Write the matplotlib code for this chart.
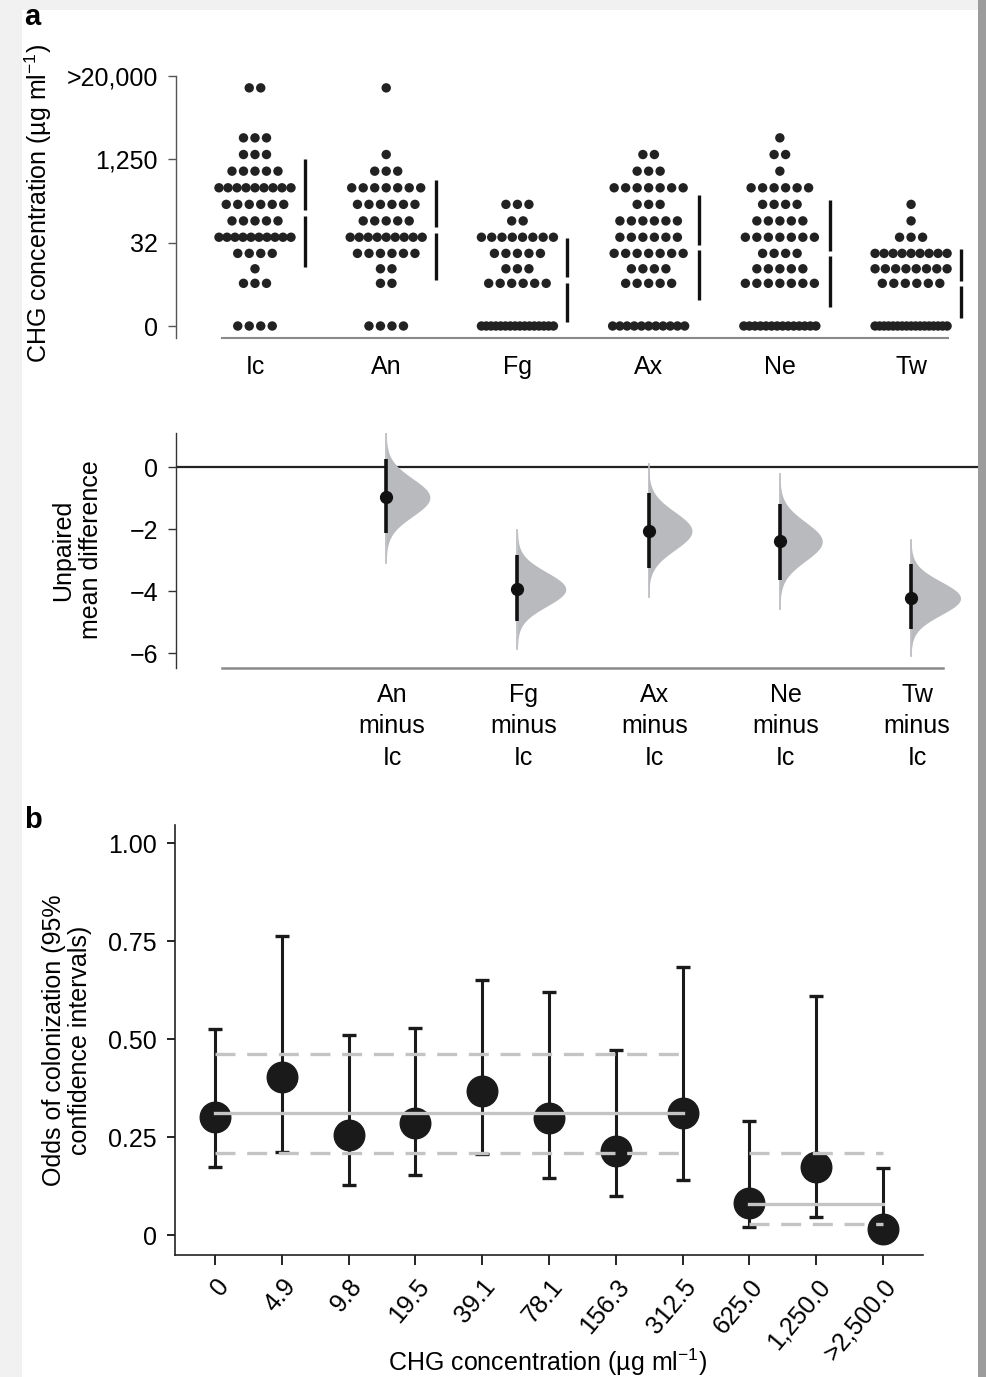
import numpy as np
import matplotlib
matplotlib.use('Agg')
import matplotlib.pyplot as plt
from matplotlib.patches import Rectangle
from matplotlib.transforms import ScaledTranslation

plt.rcParams['font.family'] = ['Liberation Sans', 'DejaVu Sans']
plt.rcParams['mathtext.fontset'] = 'custom'
plt.rcParams['mathtext.rm'] = 'Liberation Sans'
plt.rcParams['mathtext.it'] = 'Liberation Sans:italic'
plt.rcParams['mathtext.bf'] = 'Liberation Sans:bold'

# ---------------- data ----------------
groups = ['Ic', 'An', 'Fg', 'Ax', 'Ne', 'Tw']
conc_levels = [0, 4.9, 9.8, 19.5, 39.1, 78.1, 156.3, 312.5, 625, 1250, 2500, 20000]
counts_Ic = [4, 3, 1, 4, 10, 5, 6, 9, 5, 3, 3, 2]
counts_An = [4, 2, 2, 6, 9, 5, 6, 7, 3, 1, 0, 1]
counts_Fg = [16, 6, 3, 5, 8, 2, 3, 0, 0, 0, 0, 0]
counts_Ax = [11, 5, 4, 7, 6, 6, 3, 7, 3, 2, 0, 0]
counts_Ne = [14, 7, 5, 4, 7, 5, 4, 6, 1, 2, 1, 0]
counts_Tw = [17, 6, 8, 9, 3, 1, 1, 0, 0, 0, 0, 0]
group_counts = [counts_Ic, counts_An, counts_Fg, counts_Ax, counts_Ne, counts_Tw]
group_mean_log = [6.79, 5.77, 2.78, 4.71, 4.36, 2.56]
group_sd_log = [3.22, 2.98, 2.52, 3.17, 3.23, 2.07]
top_yticks = [0, 5, 10, 15]
top_yticklabels = ['0', '32', '1,250', '>20,000']

diff_labels = ['An\nminus\nIc', 'Fg\nminus\nIc', 'Ax\nminus\nIc', 'Ne\nminus\nIc', 'Tw\nminus\nIc']
diff_mean = [-0.98, -3.94, -2.06, -2.40, -4.23]
diff_ci_low = [-2.12, -4.98, -3.25, -3.65, -5.23]
diff_ci_high = [0.26, -2.83, -0.85, -1.20, -3.13]

odds_labels = ['0', '4.9', '9.8', '19.5', '39.1', '78.1', '156.3', '312.5',
               '625.0', '1,250.0', '>2,500.0']
odds = [0.301, 0.402, 0.256, 0.286, 0.367, 0.298, 0.214, 0.311, 0.081, 0.174, 0.015]
odds_low = [0.174, 0.211, 0.128, 0.154, 0.207, 0.145, 0.099, 0.141, 0.020, 0.047, 0.005]
odds_high = [0.525, 0.763, 0.509, 0.527, 0.650, 0.620, 0.472, 0.683, 0.291, 0.611, 0.172]
pool1_mean, pool1_low, pool1_high = 0.31, 0.209, 0.461
pool2_mean, pool2_low, pool2_high = 0.08, 0.028, 0.209

# ---------------- figure ----------------
W, H = 986, 1377
fig = plt.figure(figsize=(W / 100, H / 100), dpi=100)
fig.patch.set_facecolor('#f1f1f1')
fig.add_artist(Rectangle((22 / W, 0), (978 - 22) / W, 1 - 10 / H,
                         transform=fig.transFigure, facecolor='white',
                         edgecolor='none', zorder=-5))
fig.add_artist(Rectangle((978 / W, 0), 8 / W, 1, transform=fig.transFigure,
                         facecolor='#9c9c9c', edgecolor='none', zorder=-5))


def box(x0, y0, x1, y1):
    return [x0 / W, 1 - y1 / H, (x1 - x0) / W, (y1 - y0) / H]


FS = 18
DOT = '#222222'

# ---------------- panel a, top ----------------
ax1 = fig.add_axes(box(176, 76, 978, 338))
ax1.set_facecolor('none')
xl = (-0.602, 5.51)
ax1.set_xlim(*xl)
ax1.set_ylim(-0.72, 15)
px_per_unit = 802 / (xl[1] - xl[0])
for i, cnts in enumerate(group_counts):
    for c, n in zip(conc_levels, cnts):
        if n == 0:
            continue
        y = np.log2(c + 1)
        span = min((n - 1) * 11.5, 72.0)
        xs = i + np.linspace(-span / 2, span / 2, n) / px_per_unit
        ax1.scatter(xs, np.full(n, y), s=46, color=DOT, edgecolors='none', zorder=3)
    m, sd = group_mean_log[i], group_sd_log[i]
    gap = 0.17
    bx = i + 0.38
    ax1.plot([bx, bx], [m + gap, m + sd], color='#111111', lw=2.4, solid_capstyle='butt')
    ax1.plot([bx, bx], [m - sd, m - gap], color='#111111', lw=2.4, solid_capstyle='butt')

ax1.set_yticks(top_yticks)
ax1.set_yticklabels(top_yticklabels, fontsize=FS)
ax1.set_xticks(range(len(groups)))
ax1.set_xticklabels(groups, fontsize=FS)
ax1.tick_params(axis='x', length=0, pad=12)
ax1.tick_params(axis='y', length=6, width=1, color='#555555', pad=7)
for s in ['top', 'right']:
    ax1.spines[s].set_visible(False)
ax1.spines['left'].set_color('#555555')
ax1.spines['left'].set_linewidth(1.0)
ax1.spines['bottom'].set_color('#8a8a8a')
ax1.spines['bottom'].set_linewidth(1.5)
ax1.spines['bottom'].set_bounds(-0.25, 5.28)

# ---------------- panel a, bottom (estimation) ----------------
ax2 = fig.add_axes(box(176, 433, 978, 668))
ax2.set_facecolor('none')
ax2.set_xlim(*xl)
ax2.set_ylim(-6.48, 1.097)
ax2.axhline(0, color='#222222', lw=1.6, zorder=1)
VCOL = '#b9babd'
for k in range(len(diff_mean)):
    pos = k + 1
    m = diff_mean[k]
    sd = (diff_ci_high[k] - diff_ci_low[k]) / 3.92
    yy = np.linspace(m - 3.5 * sd, m + 3.5 * sd, 300)
    dens = np.exp(-0.5 * ((yy - m) / sd) ** 2)
    width = 0.202 / sd
    xx = pos + width * dens
    ax2.fill_betweenx(yy, pos, xx, color=VCOL, lw=0, zorder=2)
    ax2.plot([pos, pos], [yy[0], yy[-1]], color=VCOL, lw=1.2, zorder=2)
    ax2.plot([pos, pos], [diff_ci_low[k], diff_ci_high[k]], color='#111111', lw=2.6,
             solid_capstyle='butt', zorder=3)
    ax2.plot([pos], [m], 'o', color='#111111', ms=8.5, zorder=4)
ax2.set_yticks([0, -2, -4, -6])
ax2.set_yticklabels(['0', '\u22122', '\u22124', '\u22126'], fontsize=FS)
ax2.set_xticks([k + 1.045 for k in range(len(diff_labels))])
ax2.set_xticklabels(diff_labels, fontsize=FS, linespacing=1.38)
ax2.tick_params(axis='x', length=0, pad=11)
ax2.tick_params(axis='y', length=6, width=1, color='#333333', pad=7)
for s in ['top', 'right']:
    ax2.spines[s].set_visible(False)
ax2.spines['left'].set_color('#333333')
ax2.spines['left'].set_linewidth(1.0)
ax2.spines['bottom'].set_color('#8a8a8a')
ax2.spines['bottom'].set_linewidth(1.8)
ax2.spines['bottom'].set_bounds(-0.25, 5.24)

# ---------------- panel b ----------------
ax3 = fig.add_axes(box(175, 825, 923, 1255))
ax3.set_facecolor('none')
ax3.set_xlim(-0.599, 10.6)
ax3.set_ylim(-0.051, 1.046)
xpos = np.arange(len(odds))
o = np.array(odds)
lo = np.array(odds_low)
hi = np.array(odds_high)
ax3.errorbar(xpos, o, yerr=[o - lo, hi - o], fmt='o', ms=22, color='#1a1a1a',
             ecolor='#1a1a1a', elinewidth=2.2, capsize=5, capthick=2.4, zorder=3)
LCOL = '#c4c4c4'
g1 = [0, 7]
g2 = [8, 10]
ax3.plot(g1, [pool1_mean] * 2, color=LCOL, lw=2.4, zorder=5)
ax3.plot(g1, [pool1_high] * 2, color=LCOL, lw=2.4, dashes=(6, 3.5), zorder=5)
ax3.plot(g1, [pool1_low] * 2, color=LCOL, lw=2.4, dashes=(6, 3.5), zorder=5)
ax3.plot(g2, [pool2_mean] * 2, color=LCOL, lw=2.4, zorder=5)
ax3.plot(g2, [pool2_high] * 2, color=LCOL, lw=2.4, dashes=(6, 3.5), zorder=5)
ax3.plot(g2, [pool2_low] * 2, color=LCOL, lw=2.4, dashes=(6, 3.5), zorder=5)
ax3.set_yticks([0, 0.25, 0.5, 0.75, 1.0])
ax3.set_yticklabels(['0', '0.25', '0.50', '0.75', '1.00'], fontsize=FS)
ax3.set_xticks(xpos)
ax3.set_xticklabels(odds_labels, fontsize=FS, rotation=50, ha='right', va='top',
                    rotation_mode='anchor')
shift = ScaledTranslation(8 / 72, 0, fig.dpi_scale_trans)
for lab in ax3.get_xticklabels():
    lab.set_transform(lab.get_transform() + shift)
ax3.tick_params(axis='x', length=7, width=1.2, pad=7)
ax3.tick_params(axis='y', length=6, width=1.2, pad=7)
for s in ['top', 'right']:
    ax3.spines[s].set_visible(False)
for s in ['left', 'bottom']:
    ax3.spines[s].set_linewidth(1.2)
    ax3.spines[s].set_color('#222222')

# ---------------- labels ----------------
fig.text(38 / W, 1 - 203 / H, r'CHG concentration (µg ml$^{-1}$)', rotation=90,
         ha='center', va='center', fontsize=FS)
fig.text(77 / W, 1 - 550 / H, 'Unpaired\nmean difference', rotation=90,
         ha='center', va='center', fontsize=FS, linespacing=1.2)
fig.text(67 / W, 1 - 1040 / H, 'Odds of colonization (95%\nconfidence intervals)',
         rotation=90, ha='center', va='center', fontsize=FS, linespacing=1.15)
fig.text(548 / W, 1 - 1362 / H, r'CHG concentration (µg ml$^{-1}$)',
         ha='center', va='center', fontsize=FS)
fig.text(24 / W, 1 - 17 / H, 'a', ha='left', va='center', fontsize=21, fontweight='bold')
fig.text(24 / W, 1 - 820 / H, 'b', ha='left', va='center', fontsize=21, fontweight='bold')

fig.savefig('out.png', dpi=100, facecolor=fig.get_facecolor())
